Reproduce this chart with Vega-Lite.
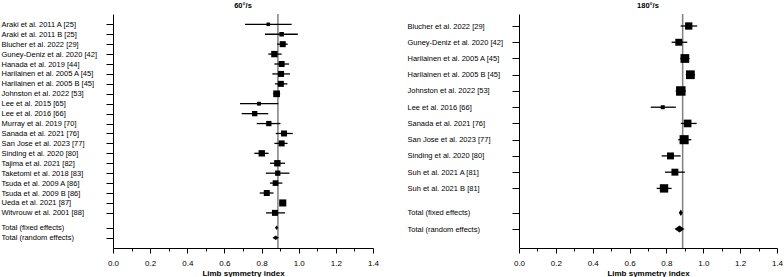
{
  "$schema": "https://vega.github.io/schema/vega-lite/v6.json",
  "padding": {"left": 1, "top": 1, "right": 0, "bottom": 0},
  "background": "white",
  "config": {
    "font": "Liberation Sans",
    "view": {"stroke": null},
    "axis": {"grid": false, "domainColor": "black", "tickColor": "black", "labelColor": "black", "titleColor": "black", "domainWidth": 1, "tickWidth": 1},
    "title": {"fontSize": 7.5, "fontWeight": "bold", "color": "black", "frame": "group", "anchor": "middle", "offset": 4}
  },
  "datasets": {
    "left": [
      {"study": "Araki et al. 2011 A [25]", "row": 0, "est": 0.836, "lo": 0.711, "hi": 0.962, "w": 1.9},
      {"study": "Araki et al. 2011 B [25]", "row": 1, "est": 0.908, "lo": 0.818, "hi": 0.995, "w": 3.1},
      {"study": "Blucher et al. 2022 [29]", "row": 2, "est": 0.914, "lo": 0.884, "hi": 0.941, "w": 5.4},
      {"study": "Guney-Deniz et al. 2020 [42]", "row": 3, "est": 0.869, "lo": 0.836, "hi": 0.908, "w": 6.1},
      {"study": "Hanada et al. 2019 [44]", "row": 4, "est": 0.908, "lo": 0.869, "hi": 0.948, "w": 5.4},
      {"study": "Harilainen et al. 2005 A [45]", "row": 5, "est": 0.905, "lo": 0.858, "hi": 0.953, "w": 5.4},
      {"study": "Harilainen et al. 2005 B [45]", "row": 6, "est": 0.904, "lo": 0.872, "hi": 0.939, "w": 5.4},
      {"study": "Johnston et al. 2022 [53]", "row": 7, "est": 0.881, "lo": 0.862, "hi": 0.9, "w": 6.7},
      {"study": "Lee et al. 2015 [65]", "row": 8, "est": 0.786, "lo": 0.684, "hi": 0.89, "w": 2.2},
      {"study": "Lee et al. 2016 [66]", "row": 9, "est": 0.763, "lo": 0.693, "hi": 0.836, "w": 4.2},
      {"study": "Murray et al. 2019 [70]", "row": 10, "est": 0.839, "lo": 0.774, "hi": 0.902, "w": 4.2},
      {"study": "Sanada et al. 2021 [76]", "row": 11, "est": 0.921, "lo": 0.876, "hi": 0.968, "w": 5.4},
      {"study": "San Jose et al. 2023 [77]", "row": 12, "est": 0.908, "lo": 0.869, "hi": 0.94, "w": 5.4},
      {"study": "Sinding et al. 2020 [80]", "row": 13, "est": 0.801, "lo": 0.761, "hi": 0.838, "w": 6.1},
      {"study": "Tajima et al. 2021 [82]", "row": 14, "est": 0.885, "lo": 0.845, "hi": 0.926, "w": 6.1},
      {"study": "Taketomi et al. 2018 [83]", "row": 15, "est": 0.887, "lo": 0.823, "hi": 0.95, "w": 4.2},
      {"study": "Tsuda et al. 2009 A [86]", "row": 16, "est": 0.875, "lo": 0.845, "hi": 0.912, "w": 4.8},
      {"study": "Tsuda et al. 2009 B [86]", "row": 17, "est": 0.828, "lo": 0.79, "hi": 0.864, "w": 5.4},
      {"study": "Ueda et al. 2021 [87]", "row": 18, "est": 0.914, "lo": 0.896, "hi": 0.932, "w": 7.5},
      {"study": "Witvrouw et al. 2001 [88]", "row": 19, "est": 0.872, "lo": 0.824, "hi": 0.926, "w": 5.4},
      {"study": "Total (fixed effects)", "row": 20.5, "est": 0.881, "total": "fixed"},
      {"study": "Total (random effects)", "row": 21.5, "est": 0.876, "total": "random"}
    ],
    "right": [
      {"study": "Blucher et al. 2022 [29]", "row": 0, "est": 0.921, "lo": 0.877, "hi": 0.967, "w": 8.0},
      {"study": "Guney-Deniz et al. 2020 [42]", "row": 1, "est": 0.867, "lo": 0.828, "hi": 0.913, "w": 7.2},
      {"study": "Harilainen et al. 2005 A [45]", "row": 2, "est": 0.9, "lo": 0.875, "hi": 0.925, "w": 11.5},
      {"study": "Harilainen et al. 2005 B [45]", "row": 3, "est": 0.93, "lo": 0.905, "hi": 0.955, "w": 11.5},
      {"study": "Johnston et al. 2022 [53]", "row": 4, "est": 0.878, "lo": 0.85, "hi": 0.905, "w": 13.5},
      {"study": "Lee et al. 2016 [66]", "row": 5, "est": 0.78, "lo": 0.715, "hi": 0.851, "w": 2.4},
      {"study": "Sanada et al. 2021 [76]", "row": 6, "est": 0.915, "lo": 0.878, "hi": 0.964, "w": 8.8},
      {"study": "San Jose et al. 2023 [77]", "row": 7, "est": 0.896, "lo": 0.864, "hi": 0.935, "w": 12.4},
      {"study": "Sinding et al. 2020 [80]", "row": 8, "est": 0.822, "lo": 0.774, "hi": 0.877, "w": 7.2},
      {"study": "Suh et al. 2021 A [81]", "row": 9, "est": 0.846, "lo": 0.792, "hi": 0.9, "w": 7.2},
      {"study": "Suh et al. 2021 B [81]", "row": 10, "est": 0.787, "lo": 0.747, "hi": 0.828, "w": 10.5},
      {"study": "Total (fixed effects)", "row": 11.5, "est": 0.878, "total": "fixed"},
      {"study": "Total (random effects)", "row": 12.5, "est": 0.871, "total": "random"}
    ]
  },
  "spacing": 146,
  "bounds": "flush",
  "hconcat": [
    {
      "title": "60°/s",
      "width": 260,
      "height": 234,
      "data": {"name": "left"},
      "encoding": {
        "y": {"field": "row", "type": "quantitative", "scale": {"domain": [-1.04, 22.54], "reverse": true, "nice": false, "zero": false},
          "axis": {"title": null, "values": [0, 1, 2, 3, 4, 5, 6, 7, 8, 9, 10, 11, 12, 13, 14, 15, 16, 17, 18, 19, 20.5, 21.5],
            "labelExpr": "['Araki et al. 2011 A [25]','Araki et al. 2011 B [25]','Blucher et al. 2022 [29]','Guney-Deniz et al. 2020 [42]','Hanada et al. 2019 [44]','Harilainen et al. 2005 A [45]','Harilainen et al. 2005 B [45]','Johnston et al. 2022 [53]','Lee et al. 2015 [65]','Lee et al. 2016 [66]','Murray et al. 2019 [70]','Sanada et al. 2021 [76]','San Jose et al. 2023 [77]','Sinding et al. 2020 [80]','Tajima et al. 2021 [82]','Taketomi et al. 2018 [83]','Tsuda et al. 2009 A [86]','Tsuda et al. 2009 B [86]','Ueda et al. 2021 [87]','Witvrouw et al. 2001 [88]','Total (fixed effects)','Total (random effects)'][datum.value < 20 ? datum.value : datum.value < 21 ? 20 : 21]",
            "labelAlign": "left", "labelBaseline": "middle", "labelPadding": 105, "tickSize": 7, "labelFontSize": 7.5,
            "labelOverlap": false, "labelBound": false, "labelFlush": false}},
        "x": {"field": "est", "type": "quantitative", "scale": {"domain": [0, 1.4], "nice": false},
          "axis": {"title": "Limb symmetry index", "titleFontSize": 8, "titleFontWeight": "bold", "titlePadding": 2,
            "values": [0, 0.1, 0.2, 0.3, 0.4, 0.5, 0.6, 0.7, 0.8, 0.9, 1.0, 1.1, 1.2, 1.3, 1.4],
            "labelExpr": "round(datum.value * 10) % 2 == 0 ? format(datum.value, '.1f') : ''",
            "tickSize": {"condition": {"test": "round(datum.value * 10) % 2 == 1", "value": 3}, "value": 5},
            "labelFontSize": 8, "labelPadding": 6, "labelFlush": false, "labelOverlap": false}}
      },
      "layer": [
        {
          "transform": [{"filter": "datum.row == 0"}],
          "mark": {"type": "rule", "color": "#808080", "strokeWidth": 1.5},
          "encoding": {"x": {"datum": 0.888, "type": "quantitative"}, "y": null}
        },
        {
          "transform": [{"filter": "isValid(datum.lo)"}],
          "mark": {"type": "rule", "color": "black", "strokeWidth": 1.3},
          "encoding": {
            "x": {"field": "lo", "type": "quantitative"},
            "x2": {"field": "hi"}
          }
        },
        {
          "transform": [{"filter": "isValid(datum.w)"}],
          "mark": {"type": "point", "shape": "square", "filled": true, "color": "black", "opacity": 1},
          "encoding": {
            "size": {"field": "w", "type": "quantitative", "scale": {"domain": [0, 7.5], "range": [0, 90], "zero": true}, "legend": null}
          }
        },
        {
          "transform": [{"filter": "isValid(datum.total)"}],
          "mark": {"type": "point", "filled": true, "color": "black", "opacity": 1},
          "encoding": {
            "shape": {"condition": {"test": "datum.total == 'fixed'", "value": "M-0.73,0L0,-1L0.73,0L0,1Z"}, "value": "M-1,0L0,-0.71L1,0L0,0.71Z"},
            "size": {"condition": {"test": "datum.total == 'fixed'", "value": 20}, "value": 40}
          }
        }
      ]
    },
    {
      "title": "180°/s",
      "width": 258,
      "height": 234,
      "data": {"name": "right"},
      "encoding": {
        "y": {"field": "row", "type": "quantitative", "scale": {"domain": [-0.74, 13.67], "reverse": true, "nice": false, "zero": false},
          "axis": {"title": null, "values": [0, 1, 2, 3, 4, 5, 6, 7, 8, 9, 10, 11.5, 12.5],
            "labelExpr": "['Blucher et al. 2022 [29]','Guney-Deniz et al. 2020 [42]','Harilainen et al. 2005 A [45]','Harilainen et al. 2005 B [45]','Johnston et al. 2022 [53]','Lee et al. 2016 [66]','Sanada et al. 2021 [76]','San Jose et al. 2023 [77]','Sinding et al. 2020 [80]','Suh et al. 2021 A [81]','Suh et al. 2021 B [81]','Total (fixed effects)','Total (random effects)'][datum.value < 11 ? datum.value : datum.value < 12 ? 11 : 12]",
            "labelAlign": "left", "labelBaseline": "middle", "labelPadding": 105, "tickSize": 7, "labelFontSize": 7.5,
            "labelOverlap": false, "labelBound": false, "labelFlush": false}},
        "x": {"field": "est", "type": "quantitative", "scale": {"domain": [0, 1.4], "nice": false},
          "axis": {"title": "Limb symmetry index", "titleFontSize": 8, "titleFontWeight": "bold", "titlePadding": 2,
            "values": [0, 0.1, 0.2, 0.3, 0.4, 0.5, 0.6, 0.7, 0.8, 0.9, 1.0, 1.1, 1.2, 1.3, 1.4],
            "labelExpr": "round(datum.value * 10) % 2 == 0 ? format(datum.value, '.1f') : ''",
            "tickSize": {"condition": {"test": "round(datum.value * 10) % 2 == 1", "value": 3}, "value": 5},
            "labelFontSize": 8, "labelPadding": 6, "labelFlush": false, "labelOverlap": false}}
      },
      "layer": [
        {
          "transform": [{"filter": "datum.row == 0"}],
          "mark": {"type": "rule", "color": "#808080", "strokeWidth": 1.5},
          "encoding": {"x": {"datum": 0.888, "type": "quantitative"}, "y": null}
        },
        {
          "transform": [{"filter": "isValid(datum.lo)"}],
          "mark": {"type": "rule", "color": "black", "strokeWidth": 1.3},
          "encoding": {
            "x": {"field": "lo", "type": "quantitative"},
            "x2": {"field": "hi"}
          }
        },
        {
          "transform": [{"filter": "isValid(datum.w)"}],
          "mark": {"type": "point", "shape": "square", "filled": true, "color": "black", "opacity": 1},
          "encoding": {
            "size": {"field": "w", "type": "quantitative", "scale": {"domain": [0, 13.5], "range": [0, 150], "zero": true}, "legend": null}
          }
        },
        {
          "transform": [{"filter": "isValid(datum.total)"}],
          "mark": {"type": "point", "filled": true, "color": "black", "opacity": 1},
          "encoding": {
            "shape": {"condition": {"test": "datum.total == 'fixed'", "value": "M-0.6,0L0,-1L0.6,0L0,1Z"}, "value": "M-1,0L0,-0.7L1,0L0,0.7Z"},
            "size": {"condition": {"test": "datum.total == 'fixed'", "value": 45}, "value": 100}
          }
        }
      ]
    }
  ]
}
